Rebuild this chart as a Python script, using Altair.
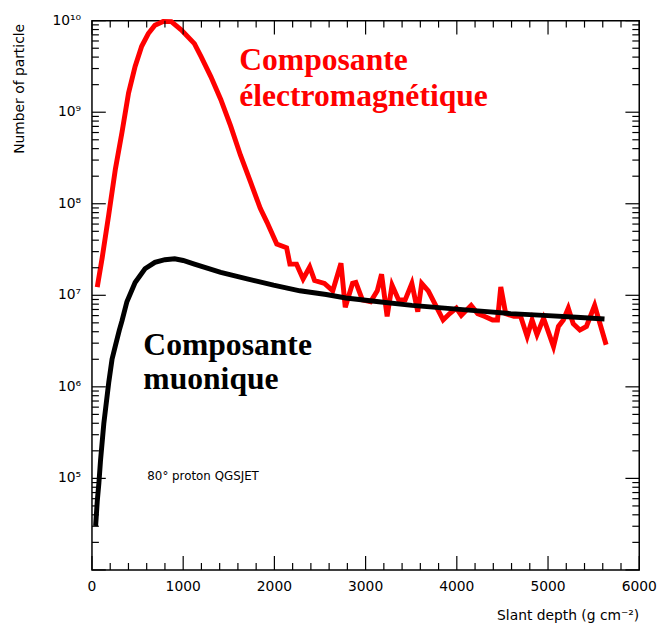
import altair as alt
import pandas as pd

# ---- data ----
depth_em = [58, 112, 184, 257, 329, 401, 473, 545, 618, 690, 780, 870, 978, 1123, 1195,
            1303, 1412, 1520, 1628, 1737, 1845, 1918, 2026, 2134, 2170, 2243, 2315, 2387,
            2441, 2549, 2640, 2730, 2777, 2857, 2893, 2965, 3055, 3128, 3175, 3236, 3290,
            3362, 3434, 3507, 3572, 3615, 3687, 3778, 3850, 3922, 3995, 4049, 4157, 4229,
            4301, 4392, 4446, 4482, 4536, 4626, 4699, 4771, 4825, 4879, 4951, 5060, 5114,
            5168, 5222, 5276, 5349, 5421, 5511, 5637]
n_em = [1.23e7, 2.57e7, 7.59e7, 2.40e8, 6.03e8, 1.62e9, 3.16e9, 5.25e9, 7.24e9, 8.91e9,
        9.8e9, 9.77e9, 7.94e9, 5.62e9, 4.07e9, 2.45e9, 1.38e9, 7.08e8, 3.39e8, 1.74e8,
        8.91e7, 6.31e7, 3.63e7, 3.31e7, 2.19e7, 2.19e7, 1.51e7, 2.04e7, 1.45e7, 1.35e7,
        1.12e7, 2.24e7, 7.41e6, 1.35e7, 1.38e7, 8.91e6, 8.51e6, 1.12e7, 1.70e7, 5.89e6,
        1.29e7, 8.91e6, 8.91e6, 1.35e7, 6.61e6, 1.35e7, 1.12e7, 7.41e6, 5.37e6, 6.31e6,
        7.24e6, 6.03e6, 7.76e6, 6.31e6, 5.89e6, 5.37e6, 5.37e6, 1.23e7, 6.31e6, 5.89e6,
        5.89e6, 3.55e6, 5.37e6, 3.72e6, 5.62e6, 2.75e6, 4.57e6, 5.37e6, 7.24e6, 4.90e6,
        4.17e6, 4.57e6, 7.76e6, 2.88e6]

depth_mu = [40, 58, 76, 94, 130, 148, 184, 220, 257, 300, 329, 383, 473, 581, 690, 800,
            907, 1000, 1123, 1412, 1701, 1990, 2279, 2568, 2784, 3145, 3507, 3868, 4229,
            4591, 4951, 5312, 5619]
n_mu = [3.02e4, 5.62e4, 8.91e4, 1.58e5, 3.98e5, 5.62e5, 1.12e6, 2.0e6, 2.82e6, 4.17e6,
        5.25e6, 8.51e6, 1.38e7, 1.95e7, 2.29e7, 2.45e7, 2.51e7, 2.40e7, 2.19e7, 1.78e7,
        1.51e7, 1.29e7, 1.12e7, 1.02e7, 9.33e6, 8.51e6, 7.76e6, 7.24e6, 6.76e6, 6.31e6,
        6.03e6, 5.75e6, 5.50e6]

x_major = [0, 1000, 2000, 3000, 4000, 5000, 6000]
x_tick_labels = ["0", "1000", "2000", "3000", "4000", "5000", "6000"]
x_minor = [v for v in range(0, 6001, 200) if v % 1000 != 0]
y_label_values = [1e5, 1e6, 1e7, 1e8, 1e9, 1e10]
y_label_text = ["10⁵", "10⁶", "10⁷", "10⁸", "10⁹", "10¹⁰"]
y_major = [1e4, 1e5, 1e6, 1e7, 1e8, 1e9, 1e10]
y_minor = [m * 10 ** e for e in range(4, 10) for m in range(2, 10)]

x_title = ["Slant depth (g cm⁻²)"]
y_title = ["Number of particle"]
em_text = ["Composante", "électromagnétique"]
mu_text = ["Composante", "muonique"]
note_text = ["80° proton QGSJET"]

# annotation anchors (data coordinates)
em_x, em_y = [1614, 1614], [2.9e9, 1.18e9]
mu_x, mu_y = [563, 563], [2.25e6, 9.44e5]
note_x, note_y = [607], [1.06e5]
x_ttl_x, ttl_y = [6000], [1e4]

W, H = 554, 556
FONT = "DejaVu Sans"
MAJOR, MINOR = 14, 7

XS = alt.Scale(domain=[0, 6000], nice=False, zero=False)
YS = alt.Scale(type="log", domain=[1e4, 1e10], nice=False)


def X(field="x"):
    return alt.X(f"{field}:Q", scale=XS, axis=None)


def Y(field="y"):
    return alt.Y(f"{field}:Q", scale=YS, axis=None)


red = alt.Chart(pd.DataFrame({"x": depth_em, "y": n_em})).mark_line(
    color="#ff0000", strokeWidth=5).encode(x=X(), y=Y())
black = alt.Chart(pd.DataFrame({"x": depth_mu, "y": n_mu})).mark_line(
    color="black", strokeWidth=5).encode(x=X(), y=Y())


def text_layer(xs, ys, texts, **kw):
    df = pd.DataFrame({"x": xs, "y": ys, "t": texts})
    return alt.Chart(df).mark_text(**kw).encode(x=X(), y=Y(), text="t:N")


em_lbl = text_layer(em_x, em_y, em_text, color="#ff0000", font="Liberation Serif",
                    fontWeight="bold", fontSize=32, align="left", baseline="alphabetic")
mu_lbl = text_layer(mu_x, mu_y, mu_text, color="black", font="Liberation Serif",
                    fontWeight="bold", fontSize=32, align="left", baseline="alphabetic")
note_lbl = text_layer(note_x, note_y, note_text, color="black", font=FONT, fontSize=12,
                      align="left", baseline="middle")


# inward ticks on all four sides of the frame
def x_ticks(values, length):
    df = pd.DataFrame({"x": values})
    bottom = alt.Chart(df).mark_rule(color="black", strokeWidth=1.2).encode(
        x=X(), y=alt.value(H), y2=alt.value(H - length))
    top = alt.Chart(df).mark_rule(color="black", strokeWidth=1.2).encode(
        x=X(), y=alt.value(0), y2=alt.value(length))
    return [bottom, top]


def y_ticks(values, length):
    df = pd.DataFrame({"y": values})
    left = alt.Chart(df).mark_rule(color="black", strokeWidth=1.2).encode(
        y=Y(), x=alt.value(0), x2=alt.value(length))
    right = alt.Chart(df).mark_rule(color="black", strokeWidth=1.2).encode(
        y=Y(), x=alt.value(W), x2=alt.value(W - length))
    return [left, right]


ticks = (x_ticks(x_major, MAJOR) + x_ticks(x_minor, MINOR)
         + y_ticks(y_major, MAJOR) + y_ticks(y_minor, MINOR))

x_lbls = alt.Chart(pd.DataFrame({"x": x_major, "y": [1e4] * len(x_major),
                                 "t": x_tick_labels})).mark_text(
    font=FONT, fontSize=14, color="black", align="center", baseline="top", dy=10).encode(
    x=X(), y=Y(), text="t:N")
y_lbls = alt.Chart(pd.DataFrame({"x": [0] * len(y_label_values), "y": y_label_values,
                                 "t": y_label_text})).mark_text(
    font=FONT, fontSize=14, color="black", align="right", baseline="middle",
    dx=-11).encode(x=X(), y=Y(), text="t:N")
x_ttl = alt.Chart(pd.DataFrame({"x": x_ttl_x, "y": ttl_y, "t": x_title})).mark_text(
    font=FONT, fontSize=14, color="black", align="right", baseline="middle",
    dy=47).encode(x=X(), y=Y(), text="t:N")
y_ttl = alt.Chart(pd.DataFrame({"x": [0], "y": [1e10], "t": y_title})).mark_text(
    font=FONT, fontSize=14, color="black", align="center", baseline="middle",
    angle=270, dx=-69, dy=-73).encode(x=X(), y=Y(), text="t:N")

chart = alt.layer(red, black, em_lbl, mu_lbl, note_lbl,
                  x_lbls, y_lbls, x_ttl, y_ttl, *ticks).properties(
    width=W, height=H,
    autosize=alt.AutoSizeParams(type="none"),
    padding={"left": 85, "top": 9, "right": 20, "bottom": 58},
    background="white",
).configure_view(stroke="black", strokeWidth=1.5)

chart.save("out.html", embed_options={"renderer": "svg", "actions": False})
